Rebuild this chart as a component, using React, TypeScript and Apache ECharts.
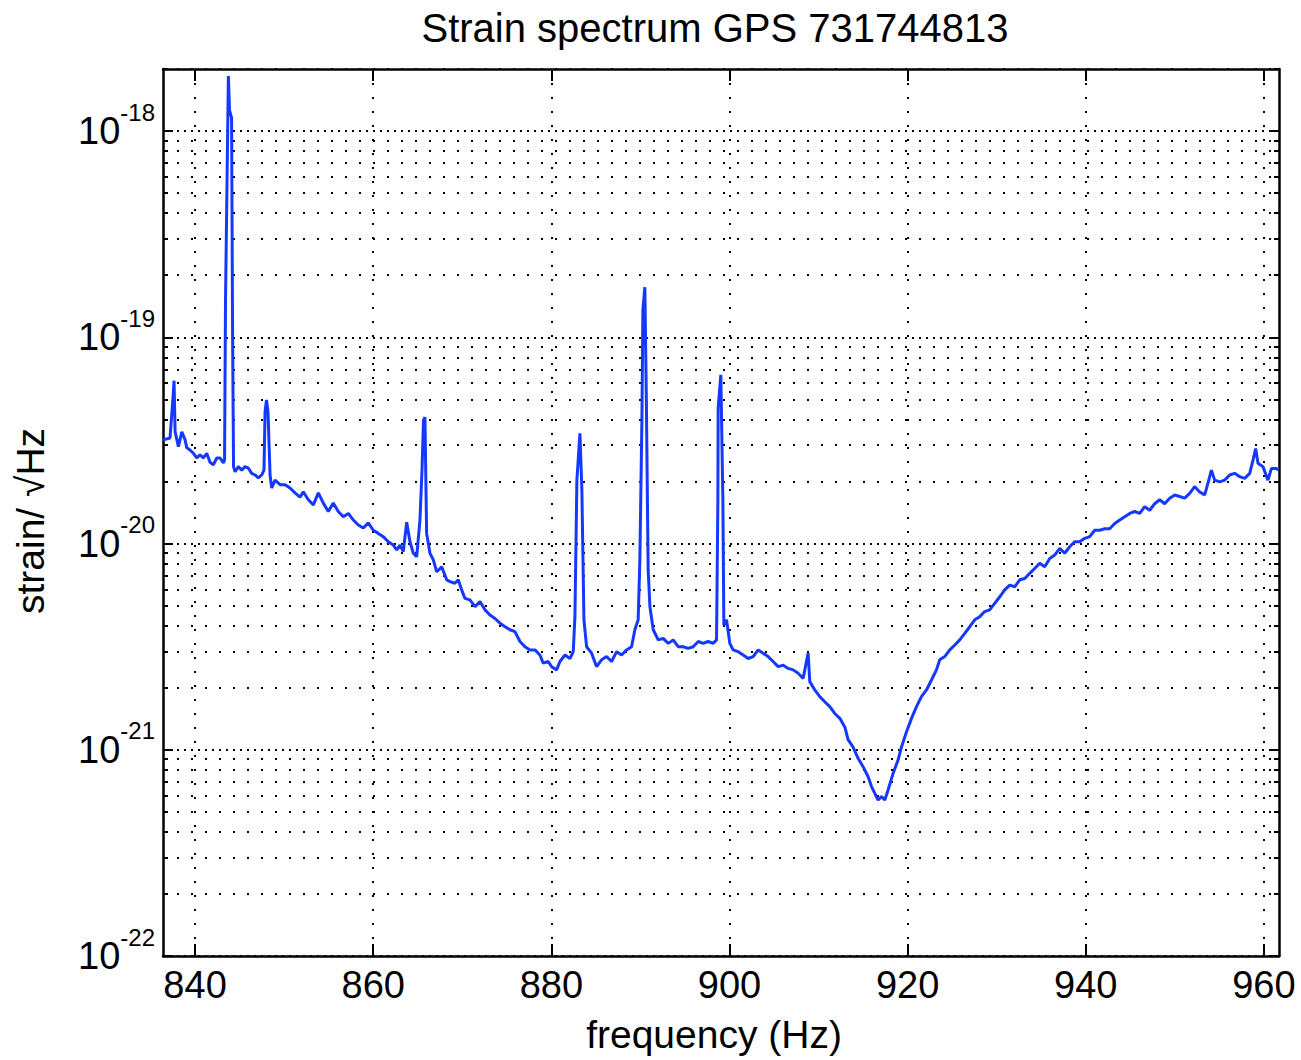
import React, { useEffect, useRef } from "react";
import * as echarts from "echarts";

const TITLE = "Strain spectrum GPS 731744813";
const X_NAME = "frequency (Hz)";
const Y_NAME = "strain/ \u221AHz";

const X_MIN = 836.4;
const X_MAX = 961.7;
const Y_MIN = 1e-22;
const Y_MAX = 2e-18;

const X_TICKS = [840, 860, 880, 900, 920, 940, 960];
const Y_MAJOR = [1e-22, 1e-21, 1e-20, 1e-19, 1e-18];
const Y_MINOR = [
  2e-22, 3e-22, 4e-22, 5e-22, 6e-22, 7e-22, 8e-22, 9e-22,
  2e-21, 3e-21, 4e-21, 5e-21, 6e-21, 7e-21, 8e-21, 9e-21,
  2e-20, 3e-20, 4e-20, 5e-20, 6e-20, 7e-20, 8e-20, 9e-20,
  2e-19, 3e-19, 4e-19, 5e-19, 6e-19, 7e-19, 8e-19, 9e-19,
  2e-18,
];

const FREQ_HZ = [
  836.41, 837.19, 837.53, 837.64, 837.76, 838.13, 838.51, 838.88, 839.07, 839.44,
  839.81, 840.19, 840.56, 840.93, 841.31, 841.68, 842.05, 842.44, 842.81, 843.18,
  843.31, 843.42, 843.74, 843.87, 844.10, 844.21, 844.32, 844.49, 844.86, 845.24,
  845.61, 845.98, 846.36, 846.73, 847.10, 847.49, 847.74, 847.86, 848.02, 848.19,
  848.42, 848.61, 848.98, 849.54, 850.10, 850.66, 851.22, 851.78, 852.15, 852.72,
  853.28, 853.84, 854.40, 854.96, 855.52, 856.08, 856.64, 857.21, 857.77, 858.33,
  858.89, 859.45, 860.01, 860.57, 861.13, 861.69, 862.26, 862.64, 863.01, 863.38,
  863.76, 864.13, 864.50, 864.88, 865.25, 865.48, 865.65, 865.81, 866.00, 866.37,
  866.75, 867.13, 867.69, 868.25, 868.62, 869.18, 869.55, 869.93, 870.30, 870.86,
  871.43, 871.99, 872.55, 873.11, 873.67, 874.24, 874.80, 875.35, 875.91, 876.48,
  877.04, 877.60, 878.16, 878.72, 879.09, 879.65, 880.03, 880.59, 880.97, 881.53,
  882.09, 882.46, 882.65, 882.87, 883.21, 883.43, 883.66, 883.96, 884.52, 885.08,
  885.64, 886.21, 886.77, 887.33, 887.89, 888.45, 889.01, 889.38, 889.75, 889.94,
  890.17, 890.28, 890.50, 890.67, 890.87, 891.07, 891.44, 892.00, 892.56, 893.12,
  893.68, 894.24, 894.80, 895.36, 895.93, 896.49, 897.05, 897.61, 898.17, 898.55,
  898.70, 898.73, 899.03, 899.26, 899.37, 899.67, 900.04, 900.41, 900.98, 901.54,
  902.10, 902.66, 903.22, 903.78, 904.34, 904.90, 905.47, 906.03, 906.59, 907.15,
  907.71, 908.27, 908.83, 909.02, 909.58, 910.14, 910.70, 911.26, 911.82, 912.39,
  912.95, 913.32, 913.88, 914.44, 915.00, 915.57, 915.95, 916.32, 916.69, 917.07,
  917.44, 917.81, 918.37, 918.93, 919.31, 919.87, 920.44, 921.00, 921.56, 922.12,
  922.68, 923.24, 923.61, 924.17, 924.74, 925.30, 925.86, 926.42, 926.98, 927.54,
  928.10, 928.66, 929.22, 929.78, 930.35, 930.91, 931.47, 932.03, 932.59, 933.15,
  933.71, 934.27, 934.83, 935.40, 935.96, 936.52, 937.08, 937.64, 938.20, 938.76,
  939.33, 939.89, 940.45, 941.01, 941.57, 942.13, 942.69, 943.25, 943.82, 944.38,
  944.94, 945.50, 946.06, 946.62, 947.18, 947.74, 948.30, 948.86, 949.43, 949.99,
  950.55, 951.11, 951.67, 952.23, 952.79, 953.36, 953.92, 954.11, 954.48, 955.04,
  955.60, 956.16, 956.73, 957.29, 957.85, 958.41, 958.78, 959.08, 959.34, 959.90,
  960.46, 960.84, 961.40, 961.66,
];

const STRAIN = [
  3.18e-20, 3.25e-20, 5.16e-20, 6.16e-20, 3.48e-20, 2.95e-20, 3.48e-20, 3.18e-20, 2.91e-20, 2.84e-20,
  2.74e-20, 2.60e-20, 2.69e-20, 2.60e-20, 2.74e-20, 2.48e-20, 2.41e-20, 2.60e-20, 2.60e-20, 2.46e-20,
  2.54e-20, 1.52e-19, 1.85e-18, 1.26e-18, 1.16e-18, 1.09e-19, 2.36e-20, 2.23e-20, 2.36e-20, 2.27e-20,
  2.36e-20, 2.32e-20, 2.19e-20, 2.15e-20, 2.08e-20, 2.15e-20, 2.27e-20, 4.36e-20, 4.97e-20, 4.35e-20,
  2.15e-20, 1.86e-20, 2.03e-20, 1.93e-20, 1.93e-20, 1.86e-20, 1.76e-20, 1.68e-20, 1.78e-20, 1.63e-20,
  1.54e-20, 1.76e-20, 1.57e-20, 1.43e-20, 1.57e-20, 1.43e-20, 1.35e-20, 1.40e-20, 1.30e-20, 1.23e-20,
  1.19e-20, 1.26e-20, 1.16e-20, 1.12e-20, 1.08e-20, 1.02e-20, 9.83e-21, 9.32e-21, 9.83e-21, 9.13e-21,
  1.27e-20, 1.02e-20, 8.97e-21, 8.62e-21, 1.30e-20, 2.27e-20, 3.97e-20, 4.10e-20, 1.12e-20, 8.99e-21,
  8.33e-21, 7.30e-21, 7.71e-21, 6.67e-21, 6.54e-21, 6.42e-21, 6.67e-21, 5.96e-21, 5.42e-21, 5.33e-21,
  4.94e-21, 5.23e-21, 4.77e-21, 4.50e-21, 4.33e-21, 4.11e-21, 3.95e-21, 3.82e-21, 3.74e-21, 3.35e-21,
  3.16e-21, 3.05e-21, 3.05e-21, 2.88e-21, 2.63e-21, 2.68e-21, 2.53e-21, 2.44e-21, 2.68e-21, 2.88e-21,
  2.77e-21, 2.99e-21, 4.42e-21, 2.03e-20, 3.42e-20, 1.82e-20, 4.27e-21, 3.16e-21, 2.94e-21, 2.53e-21,
  2.73e-21, 2.83e-21, 2.68e-21, 2.99e-21, 2.88e-21, 3.05e-21, 3.16e-21, 3.82e-21, 4.27e-21, 8.33e-21,
  3.97e-20, 1.36e-19, 1.75e-19, 4.97e-20, 7.45e-21, 4.94e-21, 3.82e-21, 3.41e-21, 3.47e-21, 3.28e-21,
  3.41e-21, 3.16e-21, 3.16e-21, 3.10e-21, 3.16e-21, 3.35e-21, 3.28e-21, 3.35e-21, 3.28e-21, 3.41e-21,
  1.63e-20, 4.53e-20, 6.58e-20, 1.63e-20, 4.03e-21, 4.27e-21, 3.28e-21, 3.05e-21, 2.99e-21, 2.88e-21,
  2.77e-21, 2.83e-21, 3.05e-21, 2.94e-21, 2.83e-21, 2.68e-21, 2.53e-21, 2.57e-21, 2.48e-21, 2.44e-21,
  2.35e-21, 2.22e-21, 2.94e-21, 2.14e-21, 1.95e-21, 1.81e-21, 1.71e-21, 1.62e-21, 1.50e-21, 1.42e-21,
  1.29e-21, 1.12e-21, 1.03e-21, 9.09e-22, 8.28e-22, 7.40e-22, 6.63e-22, 6.14e-22, 5.71e-22, 5.93e-22,
  5.71e-22, 6.38e-22, 7.68e-22, 8.92e-22, 1.03e-21, 1.22e-21, 1.42e-21, 1.62e-21, 1.81e-21, 1.95e-21,
  2.18e-21, 2.44e-21, 2.73e-21, 2.83e-21, 3.05e-21, 3.22e-21, 3.41e-21, 3.67e-21, 3.95e-21, 4.27e-21,
  4.42e-21, 4.68e-21, 4.77e-21, 5.13e-21, 5.52e-21, 5.96e-21, 6.29e-21, 6.17e-21, 6.67e-21, 6.77e-21,
  7.17e-21, 7.57e-21, 8.02e-21, 7.71e-21, 8.47e-21, 8.79e-21, 9.47e-21, 8.97e-21, 9.65e-21, 1.02e-20,
  1.02e-20, 1.06e-20, 1.08e-20, 1.16e-20, 1.16e-20, 1.18e-20, 1.18e-20, 1.25e-20, 1.30e-20, 1.35e-20,
  1.40e-20, 1.43e-20, 1.40e-20, 1.51e-20, 1.45e-20, 1.56e-20, 1.63e-20, 1.56e-20, 1.66e-20, 1.72e-20,
  1.69e-20, 1.66e-20, 1.75e-20, 1.89e-20, 1.78e-20, 1.72e-20, 2.11e-20, 2.27e-20, 2.03e-20, 1.99e-20,
  2.03e-20, 2.15e-20, 2.19e-20, 2.11e-20, 2.07e-20, 2.19e-20, 2.54e-20, 2.89e-20, 2.45e-20, 2.36e-20,
  2.03e-20, 2.31e-20, 2.31e-20, 2.27e-20,
];

const FONT = "'Liberation Sans', Arial, Helvetica, sans-serif";
const BLACK = "#000000";
const LINE_BLUE = "#1438ff";

export default function App() {
  const ref = useRef<HTMLDivElement>(null);

  useEffect(() => {
    document.body.style.margin = "0";
    if (!ref.current) return;
    const chart = echarts.init(ref.current, null, { renderer: "svg" });

    const seriesData = FREQ_HZ.map((f, i) => [f, STRAIN[i]]);

    const yLabelFormatter = (v: number) => {
      const e = Math.round(Math.log10(v));
      return `{b|10}{s|${e}}`;
    };

    const commonY = {
      type: "log" as const,
      logBase: 10,
      min: Y_MIN,
      max: Y_MAX,
      minorTick: { show: false },
      minorSplitLine: { show: false },
    };

    const option: any = {
      animation: false,
      backgroundColor: "#ffffff",
      title: {
        text: TITLE,
        left: 710,
        textAlign: "center",
        top: 3,
        textStyle: {
          fontFamily: FONT,
          fontSize: 40,
          fontWeight: "normal",
          color: BLACK,
        },
      },
      grid: {
        left: 163,
        right: 22,
        top: 69,
        bottom: 104,
        containLabel: false,
        show: false,
      },
      xAxis: [
        {
          type: "value",
          position: "bottom",
          min: X_MIN,
          max: X_MAX,
          axisLine: { show: true, onZero: false, lineStyle: { color: BLACK, width: 2.5 } },
          axisTick: {
            show: true,
            inside: true,
            length: 12,
            customValues: X_TICKS,
            lineStyle: { color: BLACK, width: 2 },
          },
          axisLabel: {
            show: true,
            customValues: X_TICKS,
            margin: 10,
            fontFamily: FONT,
            fontSize: 38,
            color: BLACK,
            formatter: (v: number) => String(v),
          },
          splitLine: {
            show: true,
            lineStyle: { color: BLACK, width: 2, type: [2, 12] },
          },
          name: X_NAME,
          nameLocation: "middle",
          nameGap: 59,
          nameTextStyle: {
            fontFamily: FONT,
            fontSize: 39,
            color: BLACK,
            padding: [0, 14, 0, 0],
          },
        },
        {
          type: "value",
          position: "top",
          min: X_MIN,
          max: X_MAX,
          axisLine: { show: true, onZero: false, lineStyle: { color: BLACK, width: 2.5 } },
          axisTick: {
            show: true,
            inside: true,
            length: 12,
            customValues: X_TICKS,
            lineStyle: { color: BLACK, width: 2 },
          },
          axisLabel: { show: false },
          splitLine: { show: false },
        },
      ],
      yAxis: [
        {
          ...commonY,
          position: "left",
          axisLine: { show: true, onZero: false, lineStyle: { color: BLACK, width: 2.5 } },
          axisTick: {
            show: true,
            inside: true,
            length: 10,
            customValues: Y_MAJOR,
            lineStyle: { color: BLACK, width: 2 },
          },
          axisLabel: {
            show: true,
            customValues: Y_MAJOR,
            margin: 8,
            formatter: yLabelFormatter,
            rich: {
              b: { fontFamily: FONT, fontSize: 38, color: BLACK, lineHeight: 62 },
              s: {
                fontFamily: FONT,
                fontSize: 24,
                color: BLACK,
                lineHeight: 24,
                verticalAlign: "top",
              },
            },
          },
          splitLine: {
            show: true,
            lineStyle: { color: BLACK, width: 2, type: [2, 5] },
          },
          name: Y_NAME,
          nameLocation: "middle",
          nameGap: 113,
          nameTextStyle: {
            fontFamily: FONT,
            fontSize: 39,
            color: BLACK,
            padding: [0, 17, 0, 0],
          },
        },
        {
          ...commonY,
          position: "left",
          axisLine: { show: false },
          axisTick: {
            show: true,
            inside: true,
            length: 5,
            customValues: Y_MINOR,
            lineStyle: { color: BLACK, width: 2 },
          },
          axisLabel: { show: false },
          splitLine: {
            show: true,
            lineStyle: { color: BLACK, width: 2, type: [2, 12] },
          },
        },
        {
          ...commonY,
          position: "right",
          axisLine: { show: true, onZero: false, lineStyle: { color: BLACK, width: 2.5 } },
          axisTick: {
            show: true,
            inside: true,
            length: 10,
            customValues: Y_MAJOR,
            lineStyle: { color: BLACK, width: 2 },
          },
          axisLabel: { show: false },
          splitLine: { show: false },
        },
        {
          ...commonY,
          position: "right",
          axisLine: { show: false },
          axisTick: {
            show: true,
            inside: true,
            length: 5,
            customValues: Y_MINOR,
            lineStyle: { color: BLACK, width: 2 },
          },
          axisLabel: { show: false },
          splitLine: { show: false },
        },
      ],
      series: [
        {
          type: "line",
          name: "strain",
          xAxisIndex: 0,
          yAxisIndex: 0,
          data: seriesData,
          showSymbol: false,
          symbol: "none",
          silent: true,
          clip: true,
          lineStyle: { color: LINE_BLUE, width: 3 },
          z: 5,
        },
      ],
    };

    chart.setOption(option);
    return () => {
      chart.dispose();
    };
  }, []);

  return <div ref={ref} style={{ width: 1301, height: 1060 }} />;
}
